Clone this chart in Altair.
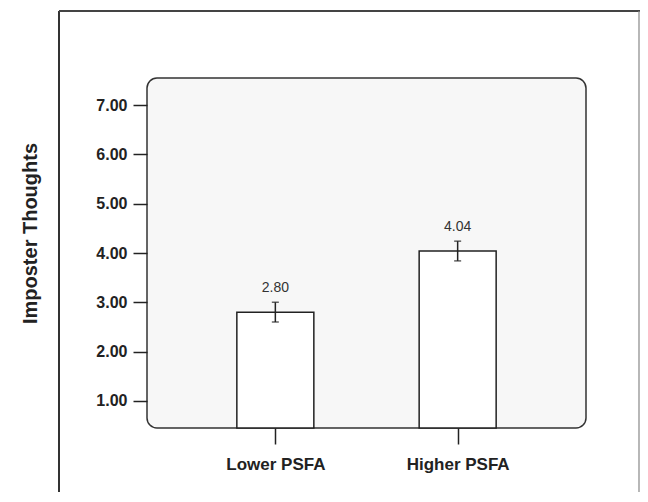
import altair as alt
import pandas as pd

categories = ["Lower PSFA", "Higher PSFA"]
means = [2.80, 4.04]
errors = [0.20, 0.20]
labels = ["2.80", "4.04"]
y_ticks = [1, 2, 3, 4, 5, 6, 7]

df = pd.DataFrame({
    "group": categories,
    "mean": means,
    "lo": [m - e for m, e in zip(means, errors)],
    "hi": [m + e for m, e in zip(means, errors)],
    "label": labels,
})

FONT = "Liberation Sans"
YMIN, YMAX = 0.45, 7.55

xenc = alt.X(
    "group:N",
    sort=categories,
    scale=alt.Scale(type="point", padding=0.704),
    axis=alt.Axis(
        title=None, labelAngle=0, domain=False, tickSize=16, tickWidth=1.5,
        tickColor="#222", labelFont=FONT, labelFontSize=17, labelFontWeight="bold",
        labelColor="#222", labelPadding=12,
    ),
)
yscale = alt.Scale(domain=[YMIN, YMAX], nice=False, zero=False)

base = alt.Chart(df)

bars = base.mark_bar(size=77, fill="white", stroke="#222", strokeWidth=1.5).encode(
    x=xenc,
    y=alt.Y(
        "mean:Q", scale=yscale,
        axis=alt.Axis(
            title="Imposter Thoughts", values=y_ticks, format=".2f", grid=False,
            domain=False, tickSize=14, tickWidth=1.5, tickColor="#222",
            labelFont=FONT, labelFontSize=16, labelFontWeight="bold",
            labelColor="#222", labelPadding=6,
            titleFont=FONT, titleFontSize=20, titleFontWeight="bold",
            titleColor="#222", titleAngle=270, titleX=-117, titleY=155,
            titleAlign="center", titleBaseline="middle",
        ),
    ),
    y2=alt.datum(YMIN),
)

err = base.mark_rule(color="#222", strokeWidth=1.5).encode(
    x=alt.X("group:N", sort=categories), y=alt.Y("lo:Q", scale=yscale), y2="hi:Q"
)
cap_lo = base.mark_tick(color="#222", size=7, thickness=1.5, orient="horizontal").encode(
    x=alt.X("group:N", sort=categories), y=alt.Y("lo:Q", scale=yscale)
)
cap_hi = base.mark_tick(color="#222", size=7, thickness=1.5, orient="horizontal").encode(
    x=alt.X("group:N", sort=categories), y=alt.Y("hi:Q", scale=yscale)
)
txt = base.mark_text(font=FONT, fontSize=14, color="#333", baseline="alphabetic", dy=-10).encode(
    x=alt.X("group:N", sort=categories), y=alt.Y("hi:Q", scale=yscale), text="label:N"
)

frame_df = pd.DataFrame({"k": [0]})
fb = alt.Chart(frame_df)
left = fb.mark_rule(color="#333", strokeWidth=2).encode(
    x=alt.value(-88), y=alt.value(-67), y2=alt.value(520)
)
top = fb.mark_rule(color="#444", strokeWidth=2).encode(
    x=alt.value(-88), x2=alt.value(499), y=alt.value(-67)
)
right = fb.mark_rule(color="#888", strokeWidth=1.2).encode(
    x=alt.value(492), y=alt.value(-67), y2=alt.value(520)
)

chart = alt.layer(bars, err, cap_lo, cap_hi, txt, left, top, right).properties(
    width=439, height=350,
    autosize=alt.AutoSizeParams(type="none"),
    padding={"left": 139, "top": 70, "right": 54, "bottom": 64},
).configure(
    background="white"
).configure_view(
    fill="#f7f7f7", stroke="#333", strokeWidth=1.5, cornerRadius=10
)

chart.save("out.html", embed_options={"renderer": "svg", "actions": False})
